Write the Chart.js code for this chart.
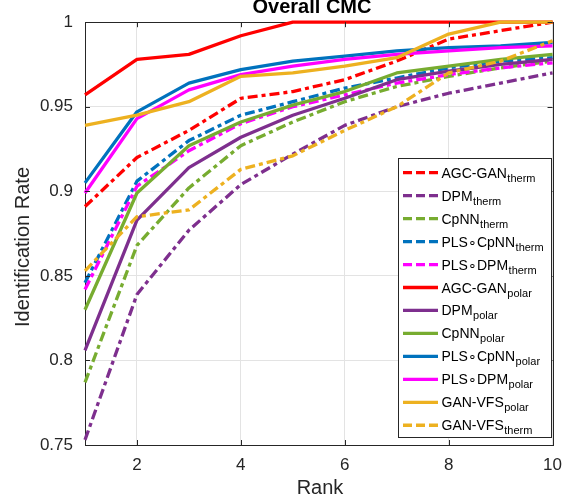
<!DOCTYPE html>
<html>
<head>
<meta charset="utf-8">
<script src="https://cdn.jsdelivr.net/npm/chart.js@4.4.1/dist/chart.umd.min.js"></script>
<style>
html,body{margin:0;padding:0;background:#fff;}
#wrap{position:relative;width:572px;height:501px;}
</style>
</head>
<body>
<div id="wrap"><canvas id="c" width="572" height="501"></canvas></div>
<script>
const ranks = [1,2,3,4,5,6,7,8,9,10];
const xTickValues = [2,4,6,8,10];
const yTickValues = [0.75,0.8,0.85,0.9,0.95,1];

const agcTherm     = [0.891,0.920,0.936,0.955,0.959,0.966,0.977,0.990,0.995,1.000];
const dpmTherm     = [0.753,0.839,0.877,0.904,0.922,0.939,0.950,0.958,0.964,0.970];
const cpnnTherm    = [0.787,0.868,0.902,0.927,0.941,0.953,0.962,0.968,0.973,0.977];
const plsCpnnTherm = [0.846,0.906,0.930,0.945,0.953,0.961,0.967,0.973,0.977,0.979];
const plsDpmTherm  = [0.842,0.903,0.924,0.940,0.950,0.957,0.964,0.969,0.973,0.976];
const agcPolar     = [0.957,0.978,0.981,0.992,1.000,1.000,1.000,1.000,1.000,1.000];
const dpmPolar     = [0.806,0.883,0.914,0.932,0.945,0.955,0.966,0.971,0.975,0.978];
const cpnnPolar    = [0.830,0.899,0.927,0.941,0.951,0.959,0.970,0.974,0.978,0.981];
const plsCpnnPolar = [0.905,0.947,0.964,0.972,0.977,0.980,0.983,0.985,0.986,0.988];
const plsDpmPolar  = [0.899,0.943,0.960,0.969,0.974,0.978,0.981,0.983,0.985,0.986];
const ganPolar     = [0.939,0.945,0.953,0.968,0.970,0.974,0.979,0.993,1.000,1.000];
const ganTherm     = [0.853,0.885,0.889,0.913,0.921,0.936,0.950,0.970,0.977,0.989];

const RED='#ff0000', PURPLE='#7e2f8e', GREEN='#77ac30', BLUE='#0072bd', MAGENTA='#ff00ff', ORANGE='#edb120';
const DASH=[10,4,4,4];

const series = [
  {name:'AGC-GAN', sub:'therm', data:agcTherm, color:RED, dash:DASH},
  {name:'DPM', sub:'therm', data:dpmTherm, color:PURPLE, dash:DASH},
  {name:'CpNN', sub:'therm', data:cpnnTherm, color:GREEN, dash:DASH},
  {name:'PLS\u2218CpNN', sub:'therm', data:plsCpnnTherm, color:BLUE, dash:DASH},
  {name:'PLS\u2218DPM', sub:'therm', data:plsDpmTherm, color:MAGENTA, dash:DASH},
  {name:'AGC-GAN', sub:'polar', data:agcPolar, color:RED, dash:[]},
  {name:'DPM', sub:'polar', data:dpmPolar, color:PURPLE, dash:[]},
  {name:'CpNN', sub:'polar', data:cpnnPolar, color:GREEN, dash:[]},
  {name:'PLS\u2218CpNN', sub:'polar', data:plsCpnnPolar, color:BLUE, dash:[]},
  {name:'PLS\u2218DPM', sub:'polar', data:plsDpmPolar, color:MAGENTA, dash:[]},
  {name:'GAN-VFS', sub:'polar', data:ganPolar, color:ORANGE, dash:[]},
  {name:'GAN-VFS', sub:'therm', data:ganTherm, color:ORANGE, dash:DASH}
];

const AX='#262626';
const FONT='"Liberation Sans", Arial, Helvetica, sans-serif';

const decor = {
  id:'decor',
  beforeDatasetsDraw(chart){
    const ctx=chart.ctx, a=chart.chartArea;
    ctx.save();
    ctx.strokeStyle=AX; ctx.lineWidth=1; ctx.setLineDash([]);
    ctx.strokeRect(Math.round(a.left)+0.5, Math.round(a.top)+0.5, Math.round(a.right-a.left), Math.round(a.bottom-a.top));
    ctx.restore();
  },
  afterDraw(chart){
    const ctx=chart.ctx, a=chart.chartArea, xs=chart.scales.x, ys=chart.scales.y;
    ctx.save();
    ctx.strokeStyle=AX; ctx.lineWidth=1; ctx.setLineDash([]);
    // inward ticks
    ctx.beginPath();
    xTickValues.forEach(v=>{const x=Math.round(xs.getPixelForValue(v))+0.5;
      ctx.moveTo(x,a.bottom); ctx.lineTo(x,a.bottom-5);
      ctx.moveTo(x,a.top); ctx.lineTo(x,a.top+5);});
    yTickValues.forEach(v=>{const y=Math.round(ys.getPixelForValue(v))+0.5;
      ctx.moveTo(a.left,y); ctx.lineTo(a.left+5,y);
      ctx.moveTo(a.right,y); ctx.lineTo(a.right-5,y);});
    ctx.stroke();
    // titles
    ctx.fillStyle='#000';
    ctx.font='bold 20px '+FONT; ctx.textAlign='center'; ctx.textBaseline='alphabetic';
    ctx.fillText('Overall CMC', 312, 13);
    ctx.fillStyle=AX;
    ctx.font='20px '+FONT;
    ctx.fillText('Rank', 320, 494);
    ctx.save(); ctx.translate(29, 247); ctx.rotate(-Math.PI/2);
    ctx.fillText('Identification Rate', 0, 0); ctx.restore();
    // legend
    const lx=398.5, ly=158.5, lw=153, lh=279;
    ctx.fillStyle='#fff'; ctx.fillRect(lx,ly,lw,lh);
    ctx.strokeStyle=AX; ctx.lineWidth=1; ctx.strokeRect(lx,ly,lw,lh);
    series.forEach((s,i)=>{
      const cy=172.7+i*22.96;
      ctx.strokeStyle=s.color; ctx.lineWidth=3.3; ctx.lineCap='butt';
      ctx.setLineDash(s.dash.length?[9,4]:[]);
      ctx.beginPath(); ctx.moveTo(403,cy); ctx.lineTo(438,cy); ctx.stroke();
      ctx.setLineDash([]);
      ctx.fillStyle='#000'; ctx.textAlign='left';
      ctx.font='14px '+FONT;
      ctx.fillText(s.name, 441.5, cy+5);
      const w=ctx.measureText(s.name).width;
      ctx.font='11px '+FONT;
      ctx.fillText(s.sub, 441.5+w+0.5, cy+9);
    });
    ctx.restore();
  }
};

new Chart(document.getElementById('c'), {
  type:'line',
  data:{
    labels:ranks,
    datasets:series.map((s,i)=>({
      label:s.name+' '+s.sub,
      data:s.data.map((v,j)=>({x:ranks[j],y:v})),
      borderColor:s.color, backgroundColor:s.color,
      borderWidth:3.3, borderDash:s.dash, pointRadius:0, tension:0,
      fill:false, order:-i, borderCapStyle:'butt', borderJoinStyle:'round', clip:false
    }))
  },
  options:{
    responsive:false, animation:false,
    layout:{padding:{left:0,right:14,top:22,bottom:0}},
    plugins:{legend:{display:false}, tooltip:{enabled:false}, title:{display:false}},
    scales:{
      x:{type:'linear', min:1, max:10,
        afterBuildTicks(sc){sc.ticks=xTickValues.map(v=>({value:v}));},
        afterFit(sc){sc.height=56;},
        grid:{color:'#e3e3e3', drawTicks:false, lineWidth:1},
        border:{display:false},
        ticks:{color:AX, font:{family:FONT,size:17}, padding:10, maxRotation:0, callback:v=>String(v)}
      },
      y:{type:'linear', min:0.75, max:1,
        afterBuildTicks(sc){sc.ticks=yTickValues.map(v=>({value:v}));},
        afterFit(sc){sc.width=85;},
        grid:{color:'#e3e3e3', drawTicks:false, lineWidth:1},
        border:{display:false},
        ticks:{color:AX, font:{family:FONT,size:17}, padding:12, callback:v=>String(Math.round(v*100)/100)}
      }
    }
  },
  plugins:[decor]
});
</script>
</body>
</html>
